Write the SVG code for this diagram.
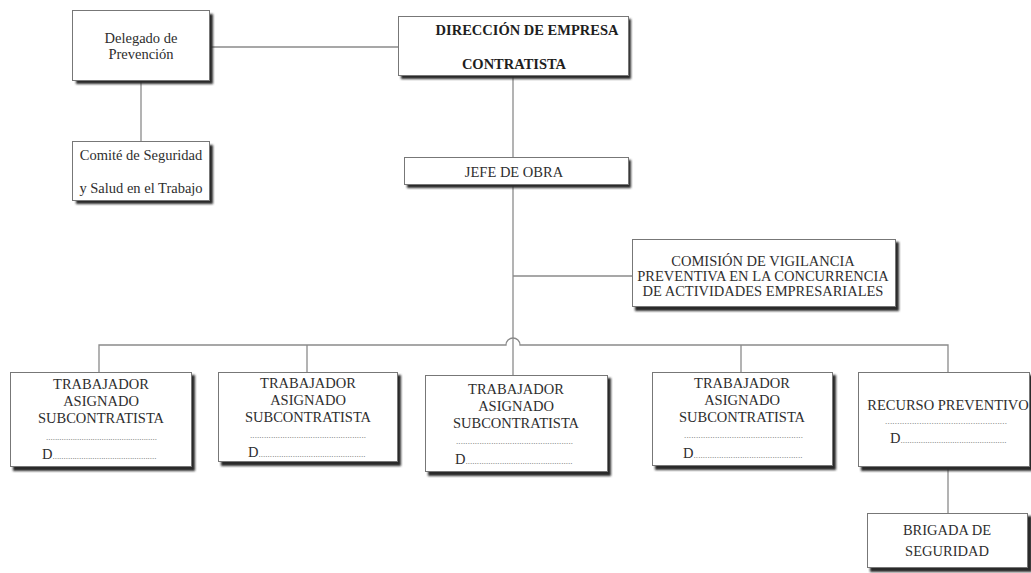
<svg xmlns="http://www.w3.org/2000/svg" width="1031" height="573" viewBox="0 0 1031 573">
<defs>
<filter id="sh" x="-10%" y="-10%" width="130%" height="130%"><feGaussianBlur stdDeviation="0.8"/></filter>
<style>
.bx{fill:#fff;stroke:#777;stroke-width:1}
.sd{fill:#2a2a2a;filter:url(#sh)}
text{font-family:'Liberation Serif','Tinos','DejaVu Serif','Noto Serif',serif}
.t{font-size:14.5px;fill:#2e2e2e;text-anchor:middle}
.b{font-weight:bold;fill:#1e1e1e}
.d{font-size:9px;fill:#666}
.dl{font-size:14.5px;fill:#2e2e2e}
.c{fill:none;stroke:#8a8a8a;stroke-width:1.3}
</style>
</defs>
<rect width="1031" height="573" fill="#fff"/>
<g id="connectors">
<path class="c" d="M210 47H398"/>
<path class="c" d="M141 80V141"/>
<path class="c" d="M513 76V157"/>
<path class="c" d="M513 184V375"/>
<path class="c" d="M513 276H632"/>
<path class="c" d="M99 372V345H506A7 7 0 0 1 520 345H948V372"/>
<path class="c" d="M307 345V372"/>
<path class="c" d="M741 345V372"/>
<path class="c" d="M948 467V513"/>
</g>
<g id="delegado">
<rect class="sd" x="76" y="14" width="137" height="70"/>
<rect class="bx" x="72.5" y="10.5" width="137" height="70"/>
<text class="t" x="141" y="43">Delegado de</text>
<text class="t" x="141" y="59">Prevención</text>
</g>
<g id="comite">
<rect class="sd" x="76" y="145" width="137" height="59"/>
<rect class="bx" x="72.5" y="141.5" width="137" height="59"/>
<text class="t" x="141" y="160">Comité de Seguridad</text>
<text class="t" x="141" y="193">y Salud en el Trabajo</text>
</g>
<g id="direccion">
<rect class="sd" x="401" y="19" width="230" height="60"/>
<rect class="bx" x="398.5" y="16.5" width="230" height="59"/>
<text class="t b" x="527" y="35">DIRECCIÓN DE EMPRESA</text>
<text class="t b" x="514" y="69">CONTRATISTA</text>
</g>
<g id="jefe">
<rect class="sd" x="407" y="160" width="224" height="28"/>
<rect class="bx" x="404.5" y="157.5" width="224" height="27"/>
<text class="t" x="514" y="177">JEFE DE OBRA</text>
</g>
<g id="comision">
<rect class="sd" x="635" y="242" width="264" height="69"/>
<rect class="bx" x="632.5" y="239.5" width="263" height="67"/>
<text class="t" x="763" y="266">COMISIÓN DE VIGILANCIA</text>
<text class="t" x="763" y="281">PREVENTIVA EN LA CONCURRENCIA</text>
<text class="t" x="763" y="296">DE ACTIVIDADES EMPRESARIALES</text>
</g>
<g id="trabajador1">
<rect class="sd" x="13" y="375" width="182" height="96"/>
<rect class="bx" x="10.5" y="372.5" width="181" height="94"/>
<text class="t" x="101" y="389">TRABAJADOR</text>
<text class="t" x="101" y="406">ASIGNADO</text>
<text class="t" x="101" y="423">SUBCONTRATISTA</text>
<text class="d" x="46" y="440" textLength="111" lengthAdjust="spacing">..................................................</text>
<text class="dl" x="42" y="459">D<tspan class="d" textLength="104" lengthAdjust="spacing">...............................................</tspan></text>
</g>
<g id="trabajador2">
<rect class="sd" x="221" y="375" width="180" height="91"/>
<rect class="bx" x="218.5" y="372.5" width="179" height="89"/>
<text class="t" x="308" y="388">TRABAJADOR</text>
<text class="t" x="308" y="405">ASIGNADO</text>
<text class="t" x="308" y="422">SUBCONTRATISTA</text>
<text class="d" x="250" y="438" textLength="116" lengthAdjust="spacing">..................................................</text>
<text class="dl" x="248" y="457">D<tspan class="d" textLength="107" lengthAdjust="spacing">...............................................</tspan></text>
</g>
<g id="trabajador3">
<rect class="sd" x="428" y="378" width="183" height="98"/>
<rect class="bx" x="425.5" y="375.5" width="182" height="96"/>
<text class="t" x="516" y="394">TRABAJADOR</text>
<text class="t" x="516" y="411">ASIGNADO</text>
<text class="t" x="516" y="428">SUBCONTRATISTA</text>
<text class="d" x="456" y="444" textLength="117" lengthAdjust="spacing">..................................................</text>
<text class="dl" x="455" y="464">D<tspan class="d" textLength="107" lengthAdjust="spacing">...............................................</tspan></text>
</g>
<g id="trabajador4">
<rect class="sd" x="655" y="375" width="181" height="95"/>
<rect class="bx" x="652.5" y="372.5" width="180" height="93"/>
<text class="t" x="742" y="388">TRABAJADOR</text>
<text class="t" x="742" y="405">ASIGNADO</text>
<text class="t" x="742" y="422">SUBCONTRATISTA</text>
<text class="d" x="684" y="438" textLength="119" lengthAdjust="spacing">..................................................</text>
<text class="dl" x="683" y="458">D<tspan class="d" textLength="109" lengthAdjust="spacing">...............................................</tspan></text>
</g>
<g id="recurso">
<rect class="sd" x="861" y="375" width="172" height="96"/>
<rect class="bx" x="858.5" y="372.5" width="171" height="94"/>
<text class="t" x="948" y="410">RECURSO PREVENTIVO</text>
<text class="d" x="885" y="424" textLength="122" lengthAdjust="spacing">..................................................</text>
<text class="dl" x="890" y="443">D<tspan class="d" textLength="106" lengthAdjust="spacing">...............................................</tspan></text>
</g>
<g id="brigada">
<rect class="sd" x="870" y="516" width="162" height="56"/>
<rect class="bx" x="867.5" y="513.5" width="160" height="54"/>
<text class="t" x="947" y="535">BRIGADA DE</text>
<text class="t" x="947" y="556">SEGURIDAD</text>
</g>
</svg>
